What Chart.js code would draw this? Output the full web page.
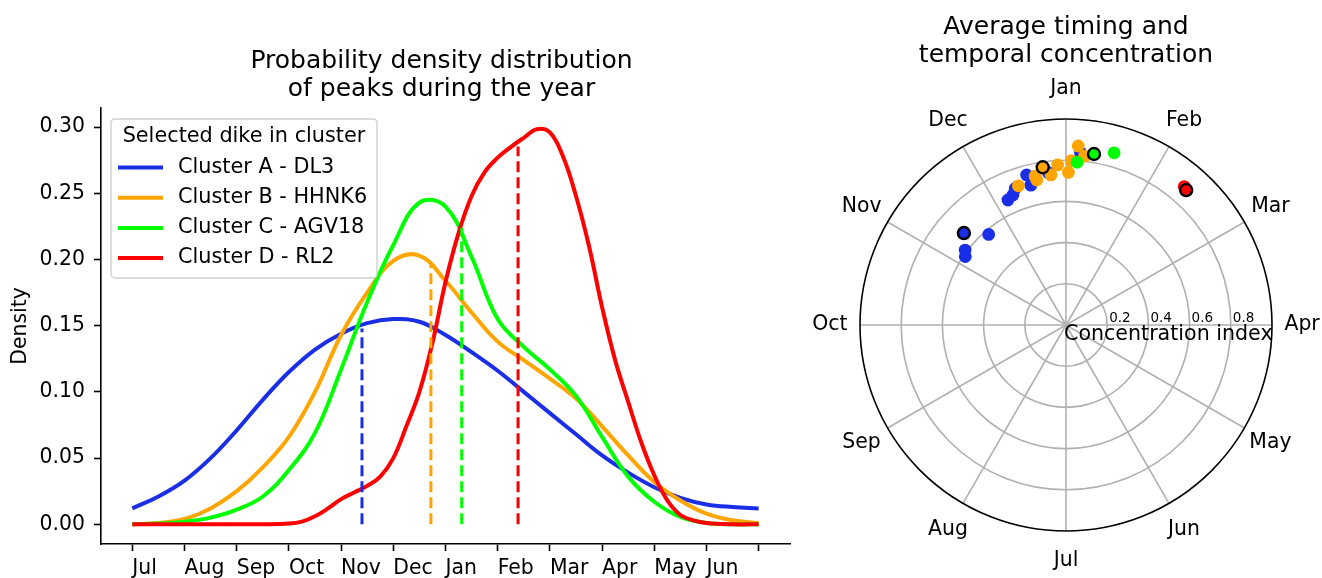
<!DOCTYPE html>
<html>
<head>
<meta charset="utf-8">
<title>Peak timing</title>
<script src="https://cdn.jsdelivr.net/npm/chart.js@4.4.1/dist/chart.umd.min.js"></script>
<style>
  html, body { margin: 0; padding: 0; background: #fff; }
  #wrap { position: relative; width: 1322px; height: 578px; overflow: hidden; }
  #densityChart { position: absolute; left: 0; top: 0; }
  #polarChart { position: absolute; left: 800px; top: 0; }
</style>
</head>
<body>
<div id="wrap">
  <canvas id="densityChart" width="800" height="578"></canvas>
  <canvas id="polarChart" width="522" height="578"></canvas>
</div>
<script>
/* ================= DATA ================= */
const monthLabels = ["Jul", "Aug", "Sep", "Oct", "Nov", "Dec", "Jan", "Feb", "Mar", "Apr", "May", "Jun", ""];
const monthTicks = [0, 1, 2, 3, 4, 5, 6, 7, 8, 9, 10, 11, 12];
const densityTicks = [0, 0.05, 0.1, 0.15, 0.2, 0.25, 0.3];

const seriesNames = ["Cluster A - DL3", "Cluster B - HHNK6", "Cluster C - AGV18", "Cluster D - RL2"];
const seriesColors = ["#1a2ee6", "#ffa500", "#00ff00", "#ff0000"];

// months since 1 July
const halfMonths = [0, 0.5, 1, 1.5, 2, 2.5, 3, 3.5, 4, 4.5, 5, 5.5, 6, 6.5, 7, 7.5, 8, 8.5, 9, 9.5, 10, 10.5, 11, 11.5, 12];
const densityA = [0.012, 0.021, 0.033, 0.050, 0.071, 0.094, 0.115, 0.132, 0.144, 0.152, 0.155, 0.153, 0.143,
  0.130, 0.116, 0.100, 0.084, 0.068, 0.052, 0.039, 0.028, 0.020, 0.015, 0.013, 0.012];
const densityB = [0.000, 0.001, 0.004, 0.012, 0.025, 0.043, 0.066, 0.100, 0.143, 0.175, 0.199, 0.203, 0.184,
  0.160, 0.138, 0.124, 0.110, 0.095, 0.074, 0.052, 0.032, 0.018, 0.008, 0.003, 0.001];
const densityC = [0.000, 0.0005, 0.002, 0.005, 0.011, 0.021, 0.041, 0.069, 0.117, 0.168, 0.211, 0.243, 0.240,
  0.202, 0.155, 0.134, 0.117, 0.097, 0.066, 0.036, 0.017, 0.0055, 0.001, 0.000, 0.000];

const redMonths = [0, 1, 2, 2.5, 3, 3.25, 3.5, 3.75, 4, 4.25, 4.5, 4.75, 5, 5.25, 5.5, 5.75, 6, 6.25, 6.5, 6.75,
  7, 7.25, 7.5, 7.75, 8, 8.25, 8.5, 8.75, 9, 9.25, 9.5, 9.75, 10, 10.25, 10.5, 10.75, 11, 11.5, 12];
const densityD = [0, 0, 0, 0, 0.0005, 0.002, 0.006, 0.012, 0.019, 0.024, 0.029, 0.036, 0.050, 0.074, 0.100, 0.137,
  0.183, 0.220, 0.248, 0.266, 0.277, 0.285, 0.292, 0.2985, 0.296, 0.278, 0.248, 0.210, 0.164, 0.124, 0.0925,
  0.062, 0.037, 0.018, 0.007, 0.003, 0.001, 0, 0];

// selected dike per cluster: mean timing (months since 1 July), density at that time, concentration index
const selectedTiming = [4.40, 5.72, 6.31, 7.39];
const selectedDensity = [0.148, 0.197, 0.224, 0.2855];
const selectedConc = [0.667, 0.774, 0.841, 0.877];

// all dikes in each cluster: timing (months since 1 July) and concentration index
const timingA = [6.16, 5.78, 5.51, 5.53, 5.32, 5.26, 5.17, 4.65, 4.22, 4.14];
const concA = [0.839, 0.744, 0.753, 0.700, 0.707, 0.682, 0.669, 0.578, 0.610, 0.591];
const timingB = [6.13, 6.21, 6.06, 6.03, 5.90, 5.81, 5.62, 5.61, 5.37];
const concB = [0.871, 0.825, 0.798, 0.741, 0.778, 0.732, 0.718, 0.738, 0.714];
const timingC = [6.52, 6.13];
const concC = [0.868, 0.792];
const timingD = [7.35];
const concD = [0.884];

const polarMonths = ["Jan", "Feb", "Mar", "Apr", "May", "Jun", "Jul", "Aug", "Sep", "Oct", "Nov", "Dec"];
const radialTicks = [0.2, 0.4, 0.6, 0.8];

/* ================= DEFAULTS ================= */
const FONT = '"DejaVu Sans", "Liberation Sans", sans-serif';
Chart.defaults.font.family = FONT;
Chart.defaults.color = "#000";
Chart.defaults.animation = false;

/* ================= PLUGINS ================= */
// two-line title centred above the plot area
const axTitle = {
  id: "axTitle",
  afterDraw(chart, args, opts) {
    const ctx = chart.ctx;
    const cx = (chart.chartArea.left + chart.chartArea.right) / 2 + (opts.dx || 0);
    ctx.save();
    ctx.font = "25px " + FONT;
    ctx.fillStyle = "#000";
    ctx.textAlign = "center";
    ctx.textBaseline = "middle";
    opts.lines.forEach((line, i) => ctx.fillText(line, cx, opts.y[i]));
    ctx.restore();
  }
};

// matplotlib-like framed legend with title
const boxLegend = {
  id: "boxLegend",
  afterDraw(chart) {
    const ctx = chart.ctx;
    const area = chart.chartArea;
    const items = chart.data.datasets.filter(d => d.inLegend);
    const x = area.left + 10, y = area.top + 11, w = 266, h = 159;
    ctx.save();
    ctx.beginPath();
    ctx.roundRect(x, y, w, h, 4);
    ctx.fillStyle = "rgba(255,255,255,0.8)";
    ctx.fill();
    ctx.lineWidth = 1.4;
    ctx.strokeStyle = "#d0d0d0";
    ctx.stroke();

    ctx.fillStyle = "#000";
    ctx.font = "20.8px " + FONT;
    ctx.textBaseline = "middle";
    ctx.textAlign = "center";
    ctx.fillText("Selected dike in cluster", x + w / 2, y + 18);

    ctx.textAlign = "left";
    items.forEach((d, i) => {
      const ly = y + 48.5 + i * 30.2;
      ctx.beginPath();
      ctx.moveTo(x + 7, ly);
      ctx.lineTo(x + 52, ly);
      ctx.lineWidth = 4;
      ctx.strokeStyle = d.borderColor;
      ctx.stroke();
      ctx.fillText(d.label, x + 67, ly);
    });
    ctx.restore();
  }
};

// polar grid, month labels and radial ticks for the scatter chart
const polarGrid = {
  id: "polarGrid",
  beforeDatasetsDraw(chart) {
    const ctx = chart.ctx;
    const sx = chart.scales.x, sy = chart.scales.y;
    const cx = sx.getPixelForValue(0), cy = sy.getPixelForValue(0);
    const unit = sx.getPixelForValue(1) - cx;
    ctx.save();
    ctx.strokeStyle = "#b0b0b0";
    ctx.lineWidth = 1.6;
    radialTicks.forEach(r => {
      ctx.beginPath();
      ctx.arc(cx, cy, r * unit, 0, Math.PI * 2);
      ctx.stroke();
    });
    polarMonths.forEach((m, i) => {
      const a = i * Math.PI / 6;
      ctx.beginPath();
      ctx.moveTo(cx, cy);
      ctx.lineTo(cx + unit * Math.sin(a), cy - unit * Math.cos(a));
      ctx.stroke();
    });
    ctx.beginPath();
    ctx.arc(cx, cy, unit, 0, Math.PI * 2);
    ctx.strokeStyle = "#000";
    ctx.lineWidth = 1.6;
    ctx.stroke();

    ctx.fillStyle = "#000";
    ctx.font = "20.4px " + FONT;
    ctx.textAlign = "center";
    ctx.textBaseline = "middle";
    polarMonths.forEach((m, i) => {
      const a = i * Math.PI / 6;
      ctx.fillText(m, cx + 1.146 * unit * Math.sin(a), cy - 1.146 * unit * Math.cos(a));
    });

    ctx.font = "13.5px " + FONT;
    ctx.textAlign = "left";
    radialTicks.forEach(r => ctx.fillText(r.toFixed(1), cx + r * unit + 2, cy - 7));

    ctx.font = "20.6px " + FONT;
    ctx.fillText("Concentration index", cx - 2, cy + 10);
    ctx.restore();
  }
};

/* ================= DENSITY CHART ================= */
function curve(xs, ys, i) {
  return {
    label: seriesNames[i],
    inLegend: true,
    data: xs.map((x, k) => ({ x: x, y: ys[k] })),
    borderColor: seriesColors[i],
    backgroundColor: seriesColors[i],
    borderWidth: 4,
    showLine: true,
    pointRadius: 0,
    tension: 0.4,
    order: 4 - i
  };
}

const densityDatasets = [
  curve(halfMonths, densityA, 0),
  curve(halfMonths, densityB, 1),
  curve(halfMonths, densityC, 2),
  curve(redMonths, densityD, 3)
];
selectedTiming.forEach((t, i) => {
  densityDatasets.push({
    label: "",
    data: [{ x: t, y: 0 }, { x: t, y: selectedDensity[i] }],
    borderColor: seriesColors[i],
    borderWidth: 3,
    borderDash: [11, 5],
    showLine: true,
    pointRadius: 0,
    order: 0
  });
});

new Chart(document.getElementById("densityChart"), {
  type: "scatter",
  data: { datasets: densityDatasets },
  options: {
    responsive: false,
    events: [],
    layout: { padding: { top: 108, right: 10, left: 0, bottom: 0 } },
    plugins: {
      legend: { display: false },
      tooltip: { enabled: false },
      axTitle: { lines: ["Probability density distribution", "of peaks during the year"], y: [61, 89], dx: -4 }
    },
    scales: {
      x: {
        type: "linear",
        min: -0.6,
        max: 12.6,
        afterBuildTicks: s => { s.ticks = monthTicks.map(v => ({ value: v })); },
        afterFit: s => { s.height = 34; },
        ticks: {
          align: "start",
          padding: 5,
          font: { size: 20.4 },
          callback: (v, i) => monthLabels[i]
        },
        grid: { drawOnChartArea: false, drawTicks: true, tickLength: 7, tickColor: "#000", tickWidth: 1.6 },
        border: { display: true, color: "#000", width: 1.6 }
      },
      y: {
        type: "linear",
        min: -0.0149,
        max: 0.3145,
        afterBuildTicks: s => { s.ticks = densityTicks.map(v => ({ value: v })); },
        afterFit: s => { s.width = 101; },
        ticks: {
          padding: 9,
          font: { size: 20.4 },
          callback: v => v.toFixed(2)
        },
        title: { display: true, text: "Density", font: { size: 20.4 }, padding: { top: 8, bottom: 0 } },
        grid: { drawOnChartArea: false, drawTicks: true, tickLength: 7, tickColor: "#000", tickWidth: 1.6 },
        border: { display: true, color: "#000", width: 1.6 }
      }
    }
  },
  plugins: [axTitle, boxLegend]
});

/* ================= POLAR SCATTER ================= */
function toXY(t, r) {
  const a = (t - 6) * Math.PI / 6;
  return { x: r * Math.sin(a), y: r * Math.cos(a) };
}

function dots(ts, rs, i) {
  return {
    data: ts.map((t, k) => toXY(t, rs[k])),
    backgroundColor: seriesColors[i],
    borderWidth: 0,
    pointRadius: 6.4,
    order: 4 - i
  };
}

const polarDatasets = [
  dots(timingA, concA, 0),
  dots(timingB, concB, 1),
  dots(timingC, concC, 2),
  dots(timingD, concD, 3),
  {
    data: selectedTiming.map((t, i) => toXY(t, selectedConc[i])),
    backgroundColor: seriesColors,
    borderColor: "#000",
    borderWidth: 2.4,
    pointRadius: 6,
    order: 0
  }
];

new Chart(document.getElementById("polarChart"), {
  type: "scatter",
  data: { datasets: polarDatasets },
  options: {
    responsive: false,
    events: [],
    layout: { padding: { top: 119, right: 50, left: 60, bottom: 47 } },
    plugins: {
      legend: { display: false },
      tooltip: { enabled: false },
      axTitle: { lines: ["Average timing and", "temporal concentration"], y: [27, 55], dx: 0 }
    },
    scales: {
      x: { type: "linear", min: -1, max: 1, display: false },
      y: { type: "linear", min: -1, max: 1, display: false }
    }
  },
  plugins: [polarGrid, axTitle]
});
</script>
</body>
</html>
